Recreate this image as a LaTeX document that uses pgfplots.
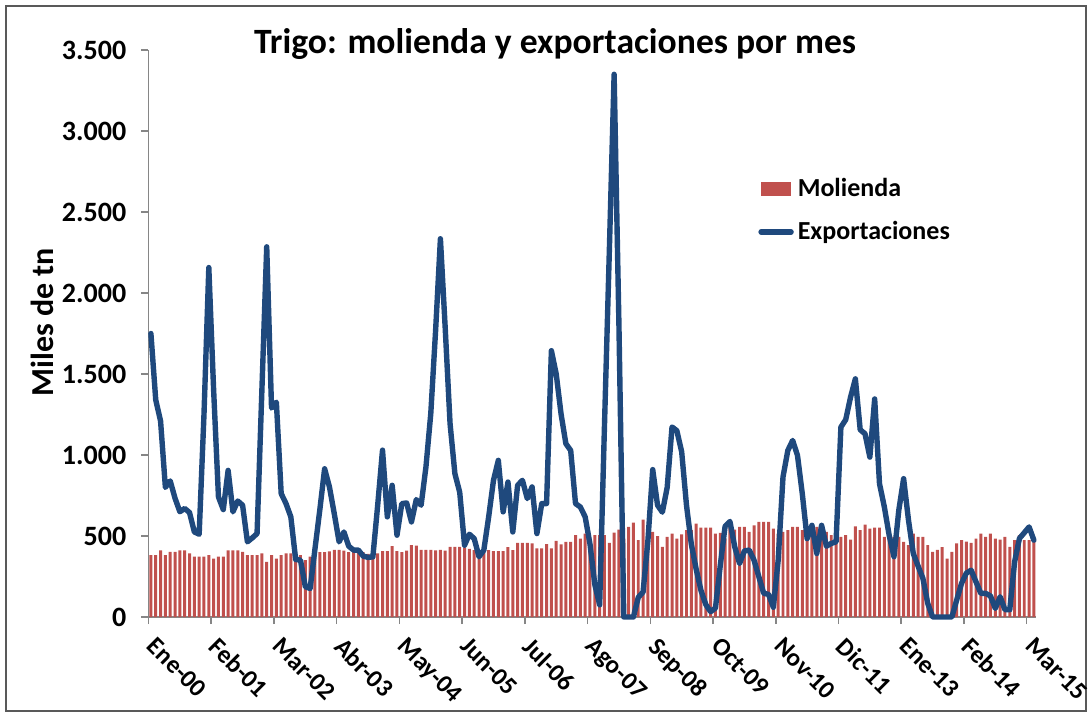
\documentclass[border=0pt]{standalone}
\usepackage{fontspec}
\setmainfont{Carlito}
\usepackage{pgfplots}
\pgfplotsset{compat=1.18}
\usepackage{pgfplotstable}
\definecolor{barred}{HTML}{C0504D}
\definecolor{lineblue}{HTML}{1F497D}
\definecolor{axisgray}{HTML}{868686}
\definecolor{framegray}{HTML}{595959}

\pgfplotstableread{
i mol exp
0 382 1750
1 382 1340
2 412 1210
3 382 800
4 402 840
5 402 733
6 412 650
7 412 670
8 392 645
9 372 525
10 372 511
11 372 1250
12 382 2157
13 361 1400
14 372 741
15 372 663
16 412 905
17 412 649
18 412 716
19 402 690
20 382 464
21 382 488
22 382 515
23 392 1400
24 341 2285
25 382 1290
26 361 1326
27 382 762
28 392 700
29 392 618
30 402 355
31 382 351
32 351 187
33 372 176
34 375 420
35 400 660
36 400 915
37 405 803
38 414 638
39 414 464
40 410 525
41 400 437
42 400 413
43 395 413
44 400 376
45 390 368
46 388 371
47 392 690
48 406 1030
49 406 618
50 437 813
51 406 505
52 400 700
53 410 704
54 443 587
55 440 725
56 414 690
57 414 926
58 414 1254
59 412 1767
60 414 2335
61 410 1780
62 433 1193
63 433 885
64 433 770
65 430 443
66 420 511
67 413 484
68 413 372
69 410 413
70 413 618
71 406 844
72 406 967
73 406 649
74 431 833
75 413 525
76 458 813
77 458 844
78 458 731
79 455 803
80 423 515
81 423 700
82 450 700
83 423 1644
84 470 1500
85 448 1254
86 464 1070
87 464 1028
88 505 700
89 484 679
90 515 618
91 478 450
92 505 200
93 505 75
94 505 1180
95 458 2250
96 521 3350
97 539 1800
98 484 0
99 556 0
100 583 0
101 474 121
102 601 154
103 545 470
104 525 910
105 500 690
106 433 647
107 495 800
108 515 1173
109 484 1150
110 510 1020
111 536 690
112 536 450
113 577 296
114 552 164
115 552 77
116 552 33
117 515 55
118 520 318
119 484 560
120 556 590
121 540 433
122 556 330
123 556 408
124 525 413
125 566 351
126 587 248
127 587 146
128 587 140
129 545 60
130 515 350
131 525 864
132 536 1028
133 556 1090
134 556 998
135 536 761
136 556 484
137 556 566
138 556 392
139 525 566
140 525 437
141 505 454
142 484 464
143 495 1172
144 505 1218
145 478 1357
146 560 1470
147 536 1156
148 570 1131
149 545 987
150 552 1346
151 552 823
152 495 680
153 525 505
154 495 372
155 495 659
156 464 854
157 443 600
158 515 392
159 495 314
160 495 238
161 443 84
162 402 0
163 415 0
164 431 0
165 361 0
166 402 0
167 454 105
168 474 207
169 465 271
170 458 289
171 484 217
172 515 146
173 495 146
174 515 130
175 484 53
176 478 125
177 495 45
178 433 45
179 474 340
180 505 485
181 474 520
182 474 556
183 474 474
}\datatable

\begin{document}
\begin{tikzpicture}[x=1pt,y=1pt]
\useasboundingbox (-74.25,-50) rectangle (471.25,308.5);
\draw[line width=1pt, draw=framegray] (-71.25,-47) rectangle (468.75,305.5);
\begin{axis}[
  at={(0,0)}, anchor=south west,
  scale only axis, width=443.9pt, height=283.5pt,
  xmin=-0.5, xmax=183.5, ymin=0, ymax=3500,
  clip=false,
  axis x line*=bottom, axis y line*=left,
  axis line style={-, draw=axisgray, line width=0.8pt},
  tick align=outside,
  major tick length=3.6pt,
  tick style={draw=axisgray, line width=0.8pt},
  ytick={0,500,...,3500},
  yticklabels={0,500,1.000,1.500,2.000,2.500,3.000,3.500},
  xtick={-0.5,12.5,...,181.5},
  xticklabels={Ene-00,Feb-01,Mar-02,Abr-03,May-04,Jun-05,Jul-06,Ago-07,Sep-08,Oct-09,Nov-10,Dic-11,Ene-13,Feb-14,Mar-15},
  yticklabel style={font=\bfseries\fontsize{14}{15}\selectfont, black, xshift=-4pt},
  xticklabel style={font=\bfseries\fontsize{12.6}{13}\selectfont, black, xshift=4.5pt, yshift=-1pt, rotate=-45, anchor=north west},
  ylabel={Miles de tn},
  ylabel style={font=\bfseries\fontsize{16}{17}\selectfont, at={(axis description cs:-0.12,0.52)}, anchor=center},
  title={Trigo: molienda y exportaciones por mes},
  title style={font=\bfseries\fontsize{17.8}{18}\selectfont, at={(axis description cs:0.458,0.973)}, anchor=base, yshift=0pt},
  legend style={draw=none, fill=none, at={(axis description cs:0.6865,0.782)}, anchor=north west,
    font=\bfseries\fontsize{13}{14}\selectfont, row sep=7pt, inner sep=0pt},
  legend cell align=left,
]
\addplot[ybar, bar width=0.62, fill=barred, draw=none,
  legend image code/.code={\fill[barred] (0pt,-3.5pt) rectangle (15pt,3.5pt);}]
  table[x=i, y=mol]{\datatable};
\addlegendentry{Molienda}
\addplot[lineblue, line width=2.7pt, line join=round, line cap=round, mark=none,
  legend image code/.code={\draw[lineblue, line width=2.7pt] (0pt,0pt) -- (15pt,0pt);}]
  table[x=i, y=exp]{\datatable};
\addlegendentry{Exportaciones}
\end{axis}
\end{tikzpicture}
\end{document}
